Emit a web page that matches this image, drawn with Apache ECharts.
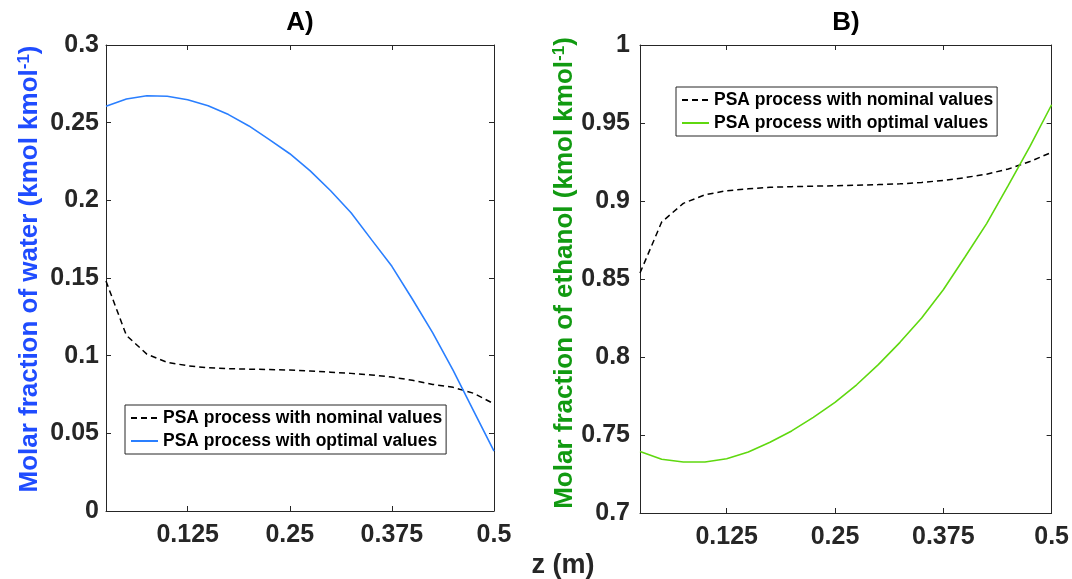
<!DOCTYPE html>
<html>
<head>
<meta charset="utf-8">
<script src="https://cdn.jsdelivr.net/npm/echarts@6/dist/echarts.min.js"></script>
<style>
html,body{margin:0;padding:0;background:#fff;}
#chart{width:1072px;height:579px;}
</style>
</head>
<body>
<div id="chart"></div>
<script>
// ---- data ----
const z = [0.025, 0.05, 0.075, 0.1, 0.125, 0.15, 0.175, 0.2, 0.225, 0.25,
           0.275, 0.3, 0.325, 0.35, 0.375, 0.4, 0.425, 0.45, 0.475, 0.5];
const xTicks = [0.125, 0.25, 0.375, 0.5];

// Panel A: molar fraction of water
const waterNominal = [0.148, 0.113, 0.101, 0.0957, 0.0935, 0.0922, 0.0916, 0.0913, 0.0911, 0.0907,
                      0.0901, 0.0894, 0.0886, 0.0876, 0.0862, 0.0842, 0.0815, 0.0796, 0.0758, 0.069];
const waterOptimal = [0.2605, 0.2652, 0.2673, 0.2670, 0.2648, 0.2609, 0.2552, 0.2479, 0.2391, 0.2300,
                      0.2190, 0.2062, 0.1920, 0.1747, 0.1575, 0.1365, 0.1147, 0.0905, 0.0645, 0.0385];

// Panel B: molar fraction of ethanol
const ethanolNominal = [0.8538, 0.8865, 0.8985, 0.9040, 0.9066, 0.9078, 0.9088, 0.9092, 0.9095, 0.9098,
                        0.9101, 0.9105, 0.9110, 0.9119, 0.9132, 0.9150, 0.9172, 0.9205, 0.9253, 0.9312];
const ethanolOptimal = [0.7395, 0.7345, 0.7327, 0.7327, 0.7348, 0.7391, 0.7453, 0.7526, 0.7613, 0.7709,
                        0.7822, 0.7951, 0.8094, 0.8250, 0.8431, 0.8641, 0.8855, 0.9100, 0.9350, 0.9617];

const nameNominal = 'PSA process with nominal values';
const nameOptimal = 'PSA process with optimal values';

// ---- chart ----
const FONT = '"Liberation Sans", Arial, Helvetica, sans-serif';
const AX = '#262626';
const pairs = (xs, ys) => xs.map((x, i) => [x, ys[i]]);
const fmt = v => String(+v.toFixed(3));

function xAxisPair(grid) {
  const common = {
    type: 'value', gridIndex: grid, min: 0.025, max: 0.5,
    splitLine: {show: false},
    axisLine: {show: true, onZero: false, lineStyle: {color: AX, width: 1}},
    axisTick: {show: true, inside: true, length: 5, customValues: xTicks, lineStyle: {color: AX}}
  };
  return [
    Object.assign({}, common, {position: 'bottom',
      axisLabel: {show: true, customValues: xTicks, formatter: fmt, margin: 12,
                  fontSize: 25, fontWeight: 'bold', color: AX, fontFamily: FONT}}),
    Object.assign({}, common, {position: 'top', axisLabel: {show: false}})
  ];
}
function yAxisPair(grid, min, max, margin) {
  const common = {
    type: 'value', gridIndex: grid, min: min, max: max, interval: 0.05,
    splitLine: {show: false},
    axisLine: {show: true, onZero: false, lineStyle: {color: AX, width: 1}},
    axisTick: {show: true, inside: true, length: 5, lineStyle: {color: AX}}
  };
  return [
    Object.assign({}, common, {position: 'left',
      axisLabel: {show: true, formatter: fmt, margin: margin, fontSize: 25, fontWeight: 'bold',
                  color: AX, fontFamily: FONT}}),
    Object.assign({}, common, {position: 'right', axisLabel: {show: false}})
  ];
}

const dashStyle = {color: '#000', width: 1.5, type: [6, 4]};
const legendCommon = {
  orient: 'vertical', padding: [4, 4, 4, 5], itemGap: 5, itemWidth: 27, itemHeight: 12,
  borderColor: AX, borderWidth: 1, backgroundColor: '#fff', selectedMode: false,
  itemStyle: {opacity: 0, borderWidth: 0},
  textStyle: {fontSize: 17.5, fontWeight: 'bold', color: '#000', fontFamily: FONT}
};

const option = {
  backgroundColor: '#fff',
  animation: false,
  textStyle: {fontFamily: FONT},
  grid: [
    {left: 106, top: 45, width: 388, height: 466, containLabel: false},
    {left: 640, top: 45, width: 412, height: 468, containLabel: false}
  ],
  xAxis: [].concat(xAxisPair(0), xAxisPair(1)),
  yAxis: [].concat(yAxisPair(0, 0, 0.3, 7), yAxisPair(1, 0.7, 1, 10)),
  legend: [
    Object.assign({}, legendCommon, {data: [nameNominal, nameOptimal], left: 125, top: 405}),
    Object.assign({}, legendCommon, {data: ['B|' + nameNominal, 'B|' + nameOptimal], left: 676, top: 87,
      formatter: n => n.replace(/^B\|/, '')})
  ],
  series: [
    {name: nameNominal, type: 'line', xAxisIndex: 0, yAxisIndex: 0, data: pairs(z, waterNominal),
     symbol: 'none', lineStyle: dashStyle, itemStyle: {color: '#000'}},
    {name: nameOptimal, type: 'line', xAxisIndex: 0, yAxisIndex: 0, data: pairs(z, waterOptimal),
     symbol: 'none', lineStyle: {color: '#2a7fff', width: 1.6}, itemStyle: {color: '#2a7fff'}},
    {name: 'B|' + nameNominal, type: 'line', xAxisIndex: 2, yAxisIndex: 2, data: pairs(z, ethanolNominal),
     symbol: 'none', lineStyle: dashStyle, itemStyle: {color: '#000'}},
    {name: 'B|' + nameOptimal, type: 'line', xAxisIndex: 2, yAxisIndex: 2, data: pairs(z, ethanolOptimal),
     symbol: 'none', lineStyle: {color: '#5fd80f', width: 1.6}, itemStyle: {color: '#5fd80f'}}
  ],
  graphic: [
    {type: 'text', x: 300, y: 23, style: {text: 'A)', fill: '#000', fontSize: 26, fontWeight: 'bold',
      fontFamily: FONT, align: 'center', verticalAlign: 'middle'}},
    {type: 'text', x: 846, y: 23, style: {text: 'B)', fill: '#000', fontSize: 26, fontWeight: 'bold',
      fontFamily: FONT, align: 'center', verticalAlign: 'middle'}},
    {type: 'text', x: 563, y: 566, style: {text: 'z (m)', fill: AX, fontSize: 27, fontWeight: 'bold',
      fontFamily: FONT, align: 'center', verticalAlign: 'middle'}},
    {type: 'text', x: 30, y: 269, rotation: Math.PI / 2,
     style: {text: '{m|Molar fraction of water (kmol kmol}{s|-1}{m|)}', align: 'center', verticalAlign: 'middle',
       rich: {m: {fontSize: 26, fontWeight: 'bold', fill: '#1f4cff', fontFamily: FONT, lineHeight: 29},
              s: {fontSize: 17, fontWeight: 'bold', fill: '#1f4cff', fontFamily: FONT, verticalAlign: 'top', lineHeight: 17}}}},
    {type: 'text', x: 565, y: 273, rotation: Math.PI / 2,
     style: {text: '{m|Molar fraction of ethanol (kmol kmol}{s|-1}{m|)}', align: 'center', verticalAlign: 'middle',
       rich: {m: {fontSize: 26, fontWeight: 'bold', fill: '#119a11', fontFamily: FONT, lineHeight: 29},
              s: {fontSize: 17, fontWeight: 'bold', fill: '#119a11', fontFamily: FONT, verticalAlign: 'top', lineHeight: 17}}}}
  ]
};

const chart = echarts.init(document.getElementById('chart'), null, {renderer: 'canvas'});
chart.setOption(option);
</script>
</body>
</html>
